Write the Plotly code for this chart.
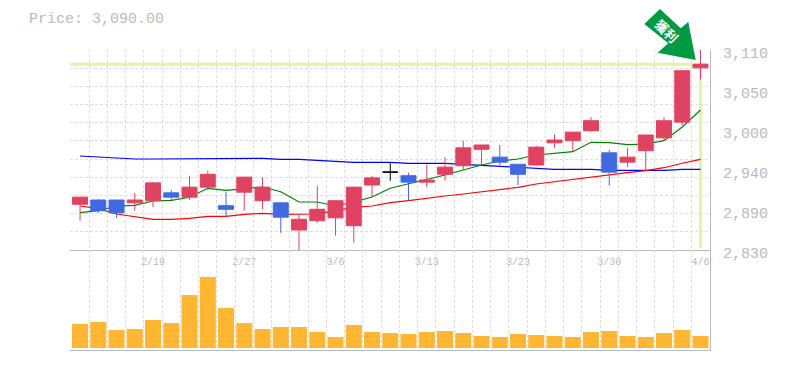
import plotly.graph_objects as go

# ---- data ----
idx = list(range(35))
opens = [2894,2900,2900,2896,2899,2910,2904,2918,2892,2911,2899,2896,2858,2871,2875,2864,2921,2939,2934,2925,2936,2948,2971,2960,2950,2949,2980,2983,2997,2966,2953,2969,2987,3009,3085]
highs = [2904,2901,2900,2910,2925,2914,2934,2941,2911,2932,2932,2897,2880,2920,2899,2918,2934,2953,2938,2950,2960,2983,2977,2977,2950,2976,2992,2995,3016,2970,2973,2991,3016,3081,3110]
lows = [2871,2882,2875,2885,2890,2900,2900,2914,2876,2885,2887,2854,2830,2868,2850,2840,2904,2927,2899,2918,2927,2942,2949,2949,2921,2949,2973,2969,2995,2920,2946,2941,2983,3004,3069]
closes = [2904,2885,2882,2900,2924,2904,2918,2936,2887,2932,2918,2876,2873,2887,2899,2918,2931,2939,2925,2928,2946,2973,2977,2953,2936,2974,2984,2995,3011,2939,2960,2991,3011,3081,3090]
ma_blue = [2961.6,2960.2,2958.8,2957.4,2957.4,2957.4,2958.1,2958.4,2958.4,2958.4,2958.4,2957,2957,2955.6,2954.2,2952.8,2952.8,2952.8,2951.4,2951.4,2951.4,2950,2948.6,2947.2,2945.8,2944.4,2943,2943,2943,2941.6,2941.6,2941.6,2941.6,2943,2943]
ma_green = [2882.2,2885,2891.6,2892.6,2898.6,2899.6,2903.8,2916.4,2913.6,2915.8,2918.2,2911.6,2897.2,2897.2,2891.6,2897.2,2904.2,2916.4,2922.4,2928,2935,2942,2949,2954.6,2957.4,2963,2965.4,2967.6,2980.8,2980.2,2977.4,2978.4,2983,3002.2,3026]
ma_red = [2891.6,2887.8,2880.4,2877.2,2873,2873,2874.4,2877.2,2877.2,2880,2881.4,2880,2880,2880.4,2885,2889.8,2891.6,2896.2,2899,2902.8,2905.6,2908.4,2911.6,2915,2917.8,2922.4,2925.6,2929,2932.6,2936,2938.2,2941,2945.2,2951.4,2957]
volume = [24,26,18,19,28,25,53,71,40,25,19,21,21,16,11,23,16,15,14,16,17,15,12,11,14,13,12,11,16,17,12,11,15,18,12]
date_pos = [4,9,14,19,24,29,34]
date_text = ["2/19","2/27","3/6","3/13","3/23","3/30","4/6"]
price_ticks = [3110,3054,2998,2942,2886,2830]
price_text = ["3,110","3,050","3,000","2,940","2,890","2,830"]
last_price = 3090
doji = 17

GREY = "#bbbbbb"
GRID = "#dddddd"
RED = "#e04361"
BLUE = "#4169e1"
LIME = "#e3f3a7"
FONT = "Liberation Mono"
RANGE_X = [-0.55, 34.52]
RANGE_Y = [2830, 3110]

fig = go.Figure()

for vals, col in ((ma_blue, "#0000ff"), (ma_green, "#008000"), (ma_red, "#ff0000")):
    fig.add_trace(go.Scatter(x=idx, y=vals, mode="lines", line=dict(color=col, width=1.2),
                             xaxis="x", yaxis="y", hoverinfo="skip"))

others = [i for i in idx if i != doji]
fig.add_trace(go.Candlestick(
    x=others,
    open=[opens[i] for i in others], high=[highs[i] for i in others],
    low=[lows[i] for i in others], close=[closes[i] for i in others],
    xaxis="x", yaxis="y3", whiskerwidth=0,
    increasing=dict(line=dict(color=RED, width=1), fillcolor=RED),
    decreasing=dict(line=dict(color=BLUE, width=1), fillcolor=BLUE)))
fig.add_trace(go.Candlestick(
    x=[doji], open=[opens[doji]], high=[highs[doji]], low=[lows[doji]], close=[closes[doji]],
    xaxis="x", yaxis="y3", whiskerwidth=0,
    increasing=dict(line=dict(color="#000000", width=1), fillcolor="#000000"),
    decreasing=dict(line=dict(color="#000000", width=1), fillcolor="#000000")))

fig.add_trace(go.Bar(x=idx, y=volume, marker=dict(color="#ffb733", line=dict(width=0)),
                     xaxis="x2", yaxis="y2", hoverinfo="skip"))

minor_x = dict(tick0=-0.5, dtick=1, showgrid=True, gridcolor=GRID, griddash="3px,2px", gridwidth=1, ticklen=0)

layout_font = dict(family=FONT, size=15, color=GREY)
fig.update_layout(
    width=785, height=370, autosize=False,
    margin=dict(l=70, r=75, t=50, b=20, autoexpand=False),
    paper_bgcolor="white", plot_bgcolor="white",
    showlegend=False, hovermode=False, bargap=0.12, boxgap=0.18, boxgroupgap=0,
    font=layout_font,
    title=dict(text="Price: 3,090.00", xref="container", yref="container",
               x=29/785, xanchor="left", y=1-18/370, yanchor="middle",
               font=layout_font),
    xaxis=dict(domain=[0, 1], range=RANGE_X, anchor="y", tickmode="array",
               tickvals=date_pos, ticktext=date_text, showgrid=False, ticks="",
               tickfont=dict(family=FONT, size=10, color=GREY), zeroline=False,
               ticklabelstandoff=2,
               showline=True, linecolor=GREY, linewidth=1, minor=minor_x,
               rangeslider=dict(visible=False)),
    xaxis2=dict(domain=[0, 1], range=RANGE_X, anchor="y2", matches="x", showticklabels=False,
                showgrid=False, ticks="", zeroline=False, showline=True, linecolor=GREY,
                linewidth=1, minor=minor_x),
    yaxis=dict(domain=[1/3, 1], range=RANGE_Y, anchor="x", side="right", tickmode="array",
               tickvals=price_ticks, ticktext=price_text, ticklabelshift=3, ticklabelstandoff=9,
               showgrid=False, ticks="", zeroline=False, showline=True, linecolor=GREY, linewidth=1,
               tickfont=layout_font,
               minor=dict(tick0=2830, dtick=280/11, showgrid=True, gridcolor=GRID,
                          griddash="3px,2px", gridwidth=1, ticklen=0)),
    yaxis3=dict(domain=[1/3, 1], range=RANGE_Y, anchor="x", overlaying="y", side="right",
                visible=False),
    yaxis2=dict(domain=[0, 1/3], range=[-2, 98], anchor="x2", side="right", showticklabels=False,
                showgrid=False, ticks="", zeroline=False, showline=True, linecolor=GREY, linewidth=1),
    shapes=[
        dict(type="line", xref="paper", yref="y", x0=0, x1=0.997, y0=last_price, y1=last_price,
             line=dict(color=LIME, width=3), layer="between"),
        dict(type="line", xref="x", yref="y", x0=34, x1=34, y0=last_price, y1=2832,
             line=dict(color=LIME, width=3), layer="between"),
        # "take profit" arrow, offsets in pixels from its tip
        dict(type="path", xref="paper", yref="paper", xsizemode="pixel", ysizemode="pixel",
             xanchor=(695.7-70)/640, yanchor=(350-60)/300,
             path="M0,0 L-7.4,38 L-15,31.7 L-35.7,51 L-51.4,36 L-27.4,16.7 L-38,7.3 Z",
             fillcolor="#009944", line=dict(width=0), layer="above"),
    ],
    annotations=[
        dict(text="<b>獲利</b>", xref="paper", yref="paper",
             x=(666.5-70)/640, y=(350-30.5)/300, xanchor="center", yanchor="middle",
             showarrow=False, textangle=45,
             font=dict(family="Noto Sans CJK TC", size=13, color="white")),
    ],
)

fig.write_html("out.html", config=dict(displayModeBar=False),
               post_script="document.body.style.margin='0';")
